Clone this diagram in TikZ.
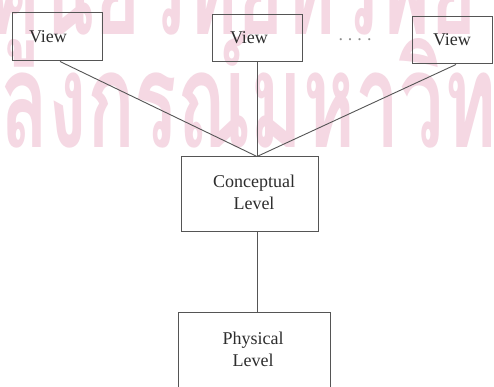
\documentclass[tikz,border=0pt]{standalone}
\usepackage{fontspec}
\setmainfont{Liberation Serif}
\newfontfamily\thaifont[Script=Thai]{Loma}
\definecolor{wmpink}{RGB}{245,216,227}
\definecolor{inkline}{RGB}{85,85,85}
\definecolor{inktext}{RGB}{45,45,45}
\begin{document}
\begin{tikzpicture}[x=1pt,y=-1pt,
  box/.style={draw=inkline, line width=1pt, inner sep=0pt},
  lbl/.style={font=\fontsize{18}{22}\selectfont, text=inktext, align=center, inner sep=0pt},
  link/.style={draw=inkline, line width=0.9pt},
  wm/.style={text=wmpink, inner sep=0pt, font=\thaifont\bfseries\fontsize{133}{133}\selectfont}]
\useasboundingbox[fill=white] (0,0) rectangle (494,387);
\begin{scope}
\clip (0,0) rectangle (494,387);
\node[wm, anchor=base west] (wm1) at (-10,35) {\scalebox{0.595}[1]{ศูนย์วิทยทรัพยากร}};
\node[wm, anchor=base east] (wm2a) at (0,148) {\scalebox{0.595}[1]{จุฬา}};
\node[wm, anchor=base west] (wm2b) at (0,148) {\scalebox{0.595}[1]{ลงกรณ์มหาวิทยาลัย}};
\end{scope}
% view boxes
\node[box, minimum width=90pt, minimum height=48pt] (v1) at (57,37) {};
\node[box, minimum width=90pt, minimum height=47pt] (v2) at (257,38.5) {};
\node[box, minimum width=80pt, minimum height=47pt] (v3) at (452,40.5) {};
\node[lbl] (t1) at (48,37) {View};
\node[lbl] (t2) at (249,38) {View};
\node[lbl] (t3) at (452,40) {View};
\node[lbl, text=black!45] (dots) at (355,40) {.\hspace{5pt}.\hspace{5pt}.\hspace{5pt}.};
% levels
\node[box, minimum width=137pt, minimum height=74pt] (c) at (249.5,194) {};
\node[lbl] (ct) at (254,192) {Conceptual\\Level};
\node[box, minimum width=152pt, minimum height=80pt] (p) at (254,352) {};
\node[lbl] (pt) at (253,349) {Physical\\Level};
% connectors
\coordinate (ctop) at (c.north -| v2.south);
\coordinate (cbot) at (c.south -| v2.south);
\coordinate (ptop) at (p.north -| v2.south);
\draw[link] ([xshift=3pt]v1.south) -- (ctop);
\draw[link] (v2.south) -- (ctop);
\draw[link] ([xshift=4pt]v3.south) -- (ctop);
\draw[link] (cbot) -- (ptop);
\end{tikzpicture}
\end{document}
